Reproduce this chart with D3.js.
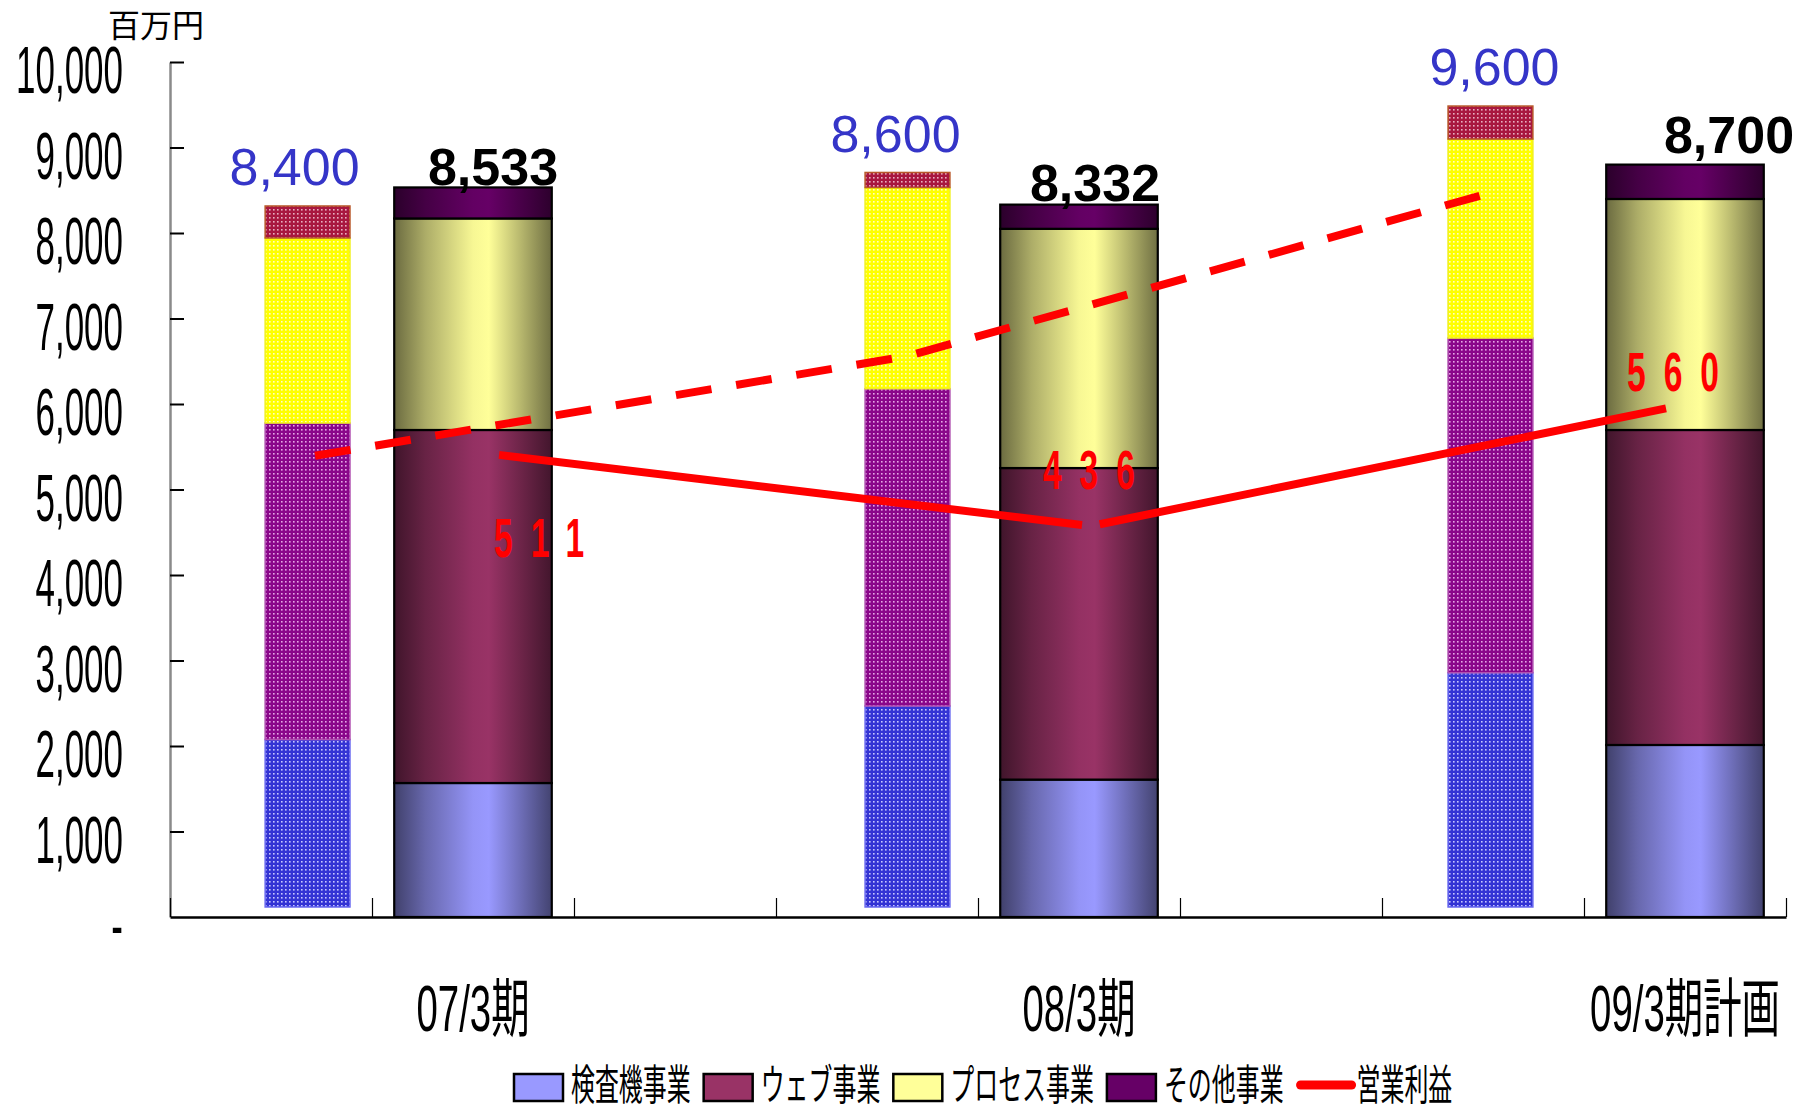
<!DOCTYPE html>
<html><head><meta charset="utf-8">
<script src="https://cdn.jsdelivr.net/npm/d3@7"></script>
<style>html,body{margin:0;padding:0;background:#fff;} svg{display:block}</style>
</head><body>
<svg id="chart" width="1803" height="1113"></svg>
<script>
// ---------- data ----------
const categories = ["07/3期", "08/3期", "09/3期計画"];
const seriesNames = ["検査機事業", "ウェブ事業", "プロセス事業", "その他事業"];
const lineName = "営業利益";
const yUnit = "百万円";
// results (wide cylinder bars)
const inspection = [1567, 1607, 2012];
const web = [4129, 3644, 3684];
const processBiz = [2474, 2798, 2702];
const other = [363, 283, 402];
const totals = [8533, 8332, 8700];
// plan (narrow patterned bars)
const planInspection = [1959, 2351, 2740];
const planWeb = [3702, 3711, 3915];
const planProcess = [2164, 2353, 2327];
const planOther = [374, 176, 386];
const planTotals = [8400, 8600, 9600];
// operating profit (secondary scale)
const opProfit = [511, 436, 560];
const planProfit = [510, 615, 785];
const yTicks = [0, 1000, 2000, 3000, 4000, 5000, 6000, 7000, 8000, 9000, 10000];

// ---------- layout ----------
const svg = d3.select("#chart");
const x = d3.scaleLinear().domain([0, 8]).range([170, 1786]);
const y = d3.scaleLinear().domain([0, 10000]).range([917, 62]);
const y2 = d3.scaleLinear().domain([24, 925]).range([917, 62]);
const bigPos = [1.5, 4.5, 7.5], bigW = 0.78;
const planPos = [0.681, 3.651, 6.537], planW = 0.42;
const planLift = 10;
const actLineX = [1.629, 4.559, 7.406];
const planLineX = [0.718, 3.651, 6.5];
const planLabelDx = [-13, -12, 4], planLabelDy = [-21, -20, -21];
const totLabelDx = [20, 16, 44], totLabelDy = [-2, -4, -12];
const profLabelDx = [-5, -48, -39], profLabelDy = [102, -37, -17];

const baseColors = ["#9999ff", "#993366", "#ffff99", "#660066"];
const patBase = ["#3434d4", "#8a068a", "#ffff00", "#a8173f"];
const patDot = ["#c8c8ff", "#e6a8e6", "#ffffc8", "#e8b0c0"];
const patStroke = ["#6a6af0", "#b050b0", "#f0f020", "#b8582a"];
const condensed = "'Liberation Sans', Arial, 'Noto Sans CJK JP', sans-serif";

const defs = svg.append("defs");
baseColors.forEach((c, k) => {
  const g = defs.append("linearGradient").attr("id", "grad" + k)
    .attr("x1", 0).attr("x2", 1).attr("y1", 0).attr("y2", 0);
  const col = d3.rgb(c);
  const shade = f => d3.rgb(col.r * f, col.g * f, col.b * f).formatHex();
  [[0, 0.42], [0.2, 0.68], [0.5, 0.97], [0.6, 1], [0.8, 0.72], [1, 0.44]].forEach(([o, f]) =>
    g.append("stop").attr("offset", o).attr("stop-color", shade(f)));
  const p = defs.append("pattern").attr("id", "pat" + k).attr("patternUnits", "userSpaceOnUse")
    .attr("width", 4).attr("height", 4);
  p.append("rect").attr("width", 4).attr("height", 4).attr("fill", patBase[k]);
  p.append("rect").attr("x", 1).attr("y", 1).attr("width", 1.6).attr("height", 1.6).attr("fill", patDot[k]);
});

function stext(parent, px, py, str, o) {
  const g = parent.append("g").attr("transform", `translate(${px},${py}) scale(${o.sx || 1},1)`);
  const t = g.append("text").text(str)
    .attr("text-anchor", o.anchor || "middle")
    .attr("font-family", o.family || condensed)
    .attr("font-size", o.size)
    .attr("font-weight", o.weight || "normal")
    .attr("fill", o.fill || "#000");
  if (o.ls) t.attr("letter-spacing", o.ls);
  return t;
}

// ---------- axes ----------
const yAxis = d3.axisLeft(y).tickValues(yTicks.slice(1)).tickSize(-14).tickSizeOuter(0).tickFormat("");
const yg = svg.append("g").attr("transform", `translate(${x(0)},0)`).call(yAxis);
yg.select(".domain").attr("stroke", "#8a8a8a").attr("stroke-width", 2.5);
yg.selectAll(".tick line").attr("stroke", "#000").attr("stroke-width", 2);

const xAxis = d3.axisBottom(x).tickValues(d3.range(0, 9)).tickSize(-19).tickSizeOuter(0).tickFormat("");
const xg = svg.append("g").attr("transform", `translate(0,${y(0)})`).call(xAxis);
xg.select(".domain").attr("stroke", "#000").attr("stroke-width", 2.5);
xg.selectAll(".tick line").attr("stroke", "#000").attr("stroke-width", 1.2);

const fmt = d3.format(",");
yTicks.forEach(v => {
  stext(svg, 123, y(v) + 31, v === 0 ? "-" : fmt(v), { size: 66, sx: 0.53, anchor: "end" });
});
stext(svg, 156, 37, yUnit, { size: 32, family: "'Noto Sans CJK JP', sans-serif" });

// category labels
categories.forEach((c, i) => {
  stext(svg, x(bigPos[i]), 1031, c, { size: 64, sx: 0.6 });
});

// ---------- plan bars ----------
const planTable = categories.map((c, i) => ({ cat: c, s0: planInspection[i], s1: planWeb[i], s2: planProcess[i], s3: planOther[i] }));
const keys = ["s0", "s1", "s2", "s3"];
const planSeries = d3.stack().keys(keys)(planTable);
planSeries.forEach((s, k) => {
  svg.append("g").selectAll("rect").data(s).join("rect")
    .attr("x", (d, i) => x(planPos[i] - planW / 2))
    .attr("width", x(planW) - x(0))
    .attr("y", d => y(d[1]) - planLift)
    .attr("height", d => y(d[0]) - y(d[1]))
    .attr("fill", `url(#pat${k})`)
    .attr("stroke", patStroke[k]).attr("stroke-width", 1.5);
});

// ---------- result bars ----------
const bigTable = categories.map((c, i) => ({ cat: c, s0: inspection[i], s1: web[i], s2: processBiz[i], s3: other[i] }));
const bigSeries = d3.stack().keys(keys)(bigTable);
bigSeries.forEach((s, k) => {
  svg.append("g").selectAll("rect").data(s).join("rect")
    .attr("x", (d, i) => x(bigPos[i] - bigW / 2))
    .attr("width", x(bigW) - x(0))
    .attr("y", d => y(d[1]))
    .attr("height", d => y(d[0]) - y(d[1]))
    .attr("fill", `url(#grad${k})`)
    .attr("stroke", "#000").attr("stroke-width", 2.2);
});

// ---------- value labels ----------
planTotals.forEach((v, i) => {
  const top = y(planSeries[3][i][1]) - planLift;
  stext(svg, x(planPos[i]) + planLabelDx[i], top + planLabelDy[i], fmt(v),
    { size: 52, fill: "#3535c8", family: "'Liberation Sans', Arial, sans-serif" });
});
totals.forEach((v, i) => {
  const top = y(bigSeries[3][i][1]);
  stext(svg, x(bigPos[i]) + totLabelDx[i], top + totLabelDy[i], fmt(v),
    { size: 52, weight: "bold", family: "'Liberation Sans', Arial, sans-serif" });
});

// ---------- profit lines ----------
const planPts = planProfit.map((v, i) => [x(planLineX[i]), y2(v)]);
svg.append("path").attr("d", d3.line()(planPts))
  .attr("fill", "none").attr("stroke", "#ff0000").attr("stroke-width", 8)
  .attr("stroke-dasharray", "36,25").attr("stroke-linecap", "butt");

const actPts = opProfit.map((v, i) => [x(actLineX[i]), y2(v)]);
function shorten(a, b, da, db) {
  const dx = b[0] - a[0], dy = b[1] - a[1], L = Math.hypot(dx, dy);
  return [[a[0] + dx * da / L, a[1] + dy * da / L], [b[0] - dx * db / L, b[1] - dy * db / L]];
}
[shorten(actPts[0], actPts[1], 0, 9), shorten(actPts[1], actPts[2], 9, 0)].forEach(seg => {
  svg.append("path").attr("d", d3.line()(seg))
    .attr("fill", "none").attr("stroke", "#ff0000").attr("stroke-width", 8).attr("stroke-linecap", "butt");
});
opProfit.forEach((v, i) => {
  stext(svg, actPts[i][0] + profLabelDx[i], actPts[i][1] + profLabelDy[i], String(v),
    { size: 56, sx: 0.6, anchor: "start", fill: "#ff0000", ls: 30, weight: "bold" });
});

// ---------- legend ----------
const lg = svg.append("g");
let lx = 514;
const ly = 1074;
seriesNames.forEach((n, k) => {
  lg.append("rect").attr("x", lx).attr("y", ly).attr("width", 49).attr("height", 27)
    .attr("fill", baseColors[k]).attr("stroke", "#000").attr("stroke-width", 2.5);
  const t = stext(lg, lx + 57, 1100, n, { size: 42, sx: 0.57, anchor: "start", family: "'Noto Sans CJK JP', sans-serif" });
  lx += 57 + t.node().getComputedTextLength() * 0.57 + 13;
});
lg.append("line").attr("x1", lx + 4).attr("x2", lx + 55).attr("y1", 1085).attr("y2", 1085)
  .attr("stroke", "#ff0000").attr("stroke-width", 9).attr("stroke-linecap", "round");
stext(lg, lx + 60, 1100, lineName, { size: 42, sx: 0.57, anchor: "start", family: "'Noto Sans CJK JP', sans-serif" });
</script>
</body></html>
